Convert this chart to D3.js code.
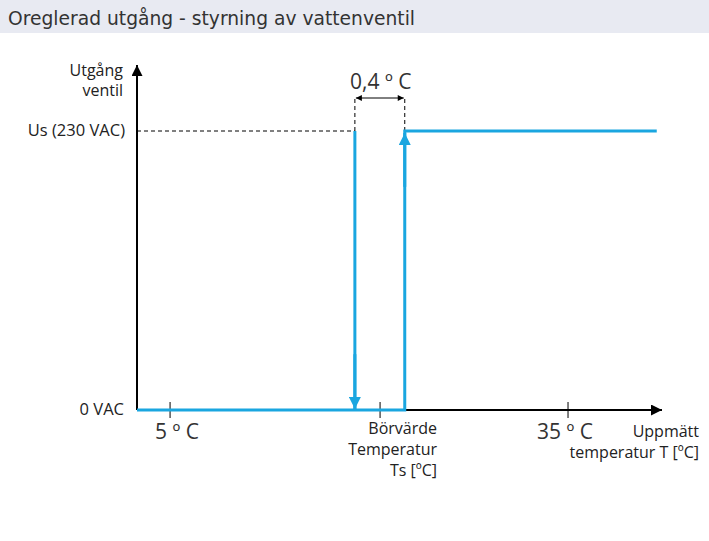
<!DOCTYPE html>
<html>
<head>
<meta charset="utf-8">
<script src="https://cdn.jsdelivr.net/npm/d3@7"></script>
<style>
  body { margin: 0; background: #fff; }
  text { font-family: "Open Sans", "Noto Sans", sans-serif; fill: #222; }
</style>
</head>
<body>
<div id="chart"></div>
<script>
// schematic units along the temperature axis (0..100) and output level (0..1)
const xTicks = [
    { pos: 6.3, lines: ["5 º C"], anchor: "middle", shift: 7 },
    { pos: 46.3, lines: ["Börvärde", "Temperatur", "Ts [ºC]"], anchor: "end", shift: 57 },
    { pos: 82.1, lines: ["35 º C"], anchor: "middle", shift: -3 }
];
const yLabels = [
    { level: 0, text: "0 VAC" },
    { level: 1, text: "Us (230 VAC)" }
];
const switchOff = 41.5;   // Ts - 0.2
const switchOn = 51.0;    // Ts + 0.2
const rising = [[0, 0], [switchOn, 0], [switchOn, 1], [99, 1]];
const falling = [[switchOff, 1], [switchOff, 0]];
const hystLabel = "0,4 º C";

const width = 709, height = 541;
const blue = "#1aa6e0";

const svg = d3.select("#chart").append("svg")
    .attr("width", width).attr("height", height);

// title band
svg.append("rect").attr("x", 0).attr("y", 0).attr("width", width).attr("height", 33)
    .attr("fill", "#e8eaf2");
svg.append("text").attr("x", 8).attr("y", 25)
    .style("font-family", "'DejaVu Sans', Verdana, sans-serif")
    .style("font-size", "18.7px")
    .style("fill", "#333")
    .text("Oreglerad utgång - styrning av vattenventil");

const x = d3.scaleLinear().domain([0, 100]).range([137, 662]);
const y = d3.scaleLinear().domain([0, 1]).range([410, 131]);

const defs = svg.append("defs");
function marker(id, color, w, h) {
    defs.append("marker").attr("id", id)
        .attr("viewBox", "0 0 10 10").attr("refX", 10).attr("refY", 5)
        .attr("markerWidth", w).attr("markerHeight", h)
        .attr("markerUnits", "userSpaceOnUse")
        .attr("orient", "auto-start-reverse")
        .append("path").attr("d", "M0,0 L10,5 L0,10 Z").attr("fill", color);
}
marker("axisArrow", "#000", 15, 11);
marker("blueArrow", blue, 15, 12);
marker("smallArrow", "#000", 7, 6);

// axes
svg.append("line").attr("x1", x(0)).attr("y1", y(0)).attr("x2", x(0)).attr("y2", y(1.237))
    .attr("stroke", "#000").attr("stroke-width", 2).attr("marker-end", "url(#axisArrow)");
svg.append("line").attr("x1", x(0)).attr("y1", y(0)).attr("x2", x(100)).attr("y2", y(0))
    .attr("stroke", "#000").attr("stroke-width", 2).attr("marker-end", "url(#axisArrow)");

// x ticks and labels
xTicks.forEach(t => {
    svg.append("line").attr("x1", x(t.pos)).attr("x2", x(t.pos))
        .attr("y1", y(0) - 8).attr("y2", y(0) + 8)
        .attr("stroke", "#000").attr("stroke-width", 1);
});
// one text element per line so stacked lines don't share a box
xTicks.forEach(t => {
    svg.selectAll(null).data(t.lines).enter().append("text")
        .attr("text-anchor", t.anchor)
        .attr("x", x(t.pos) + t.shift)
        .attr("y", (l, i) => (t.lines.length === 1 ? 439 : 434) + i * 21)
        .style("font-size", t.lines.length === 1 ? "21px" : "16px")
        .style("fill", t.lines.length === 1 ? "#333" : "#222")
        .text(l => l);
});

// axis titles
svg.selectAll(null).data(["Utgång", "ventil"]).enter().append("text")
    .attr("text-anchor", "end").style("font-size", "16px")
    .attr("x", 123).attr("y", (d, i) => 76 + i * 20).text(d => d);
svg.selectAll(null).data(["Uppmätt", "temperatur T [ºC]"]).enter().append("text")
    .attr("text-anchor", "end").style("font-size", "16px")
    .attr("x", 699).attr("y", (d, i) => 437 + i * 21).text(d => d);

// y labels
svg.selectAll(".ylab").data(yLabels).enter().append("text")
    .attr("x", d => d.level === 0 ? 124 : 125).attr("y", d => y(d.level) + 5)
    .attr("text-anchor", "end").style("font-size", "16.5px")
    .text(d => d.text);

// dashed guides
svg.append("line").attr("x1", x(0)).attr("x2", x(switchOff)).attr("y1", y(1)).attr("y2", y(1))
    .attr("stroke", "#000").attr("stroke-width", 1).attr("stroke-dasharray", "4,3");
[switchOff, switchOn].forEach(p => {
    svg.append("line").attr("x1", x(p)).attr("x2", x(p)).attr("y1", y(1)).attr("y2", 98)
        .attr("stroke", "#000").attr("stroke-width", 1).attr("stroke-dasharray", "4,3");
});
svg.append("line").attr("x1", x(switchOff) + 1).attr("x2", x(switchOn) - 1).attr("y1", 98).attr("y2", 98)
    .attr("stroke", "#000").attr("stroke-width", 1)
    .attr("marker-start", "url(#smallArrow)").attr("marker-end", "url(#smallArrow)");
svg.append("text").attr("x", (x(switchOff) + x(switchOn)) / 2 + 1).attr("y", 89)
    .attr("text-anchor", "middle").style("font-size", "21px").style("fill", "#333").text(hystLabel);

// output curves
const line = d3.line().x(d => x(d[0])).y(d => y(d[1]));
svg.append("path").datum(rising).attr("d", line)
    .attr("fill", "none").attr("stroke", blue).attr("stroke-width", 3);
svg.append("path").datum(falling).attr("d", line)
    .attr("fill", "none").attr("stroke", blue).attr("stroke-width", 3);

// direction arrows
svg.append("line").attr("x1", x(switchOff)).attr("x2", x(switchOff))
    .attr("y1", y(0.2)).attr("y2", y(0) - 1)
    .attr("stroke", blue).attr("stroke-width", 3).attr("marker-end", "url(#blueArrow)");
svg.append("line").attr("x1", x(switchOn)).attr("x2", x(switchOn))
    .attr("y1", y(0.8)).attr("y2", y(1) + 2)
    .attr("stroke", blue).attr("stroke-width", 3).attr("marker-end", "url(#blueArrow)");
</script>
</body>
</html>
